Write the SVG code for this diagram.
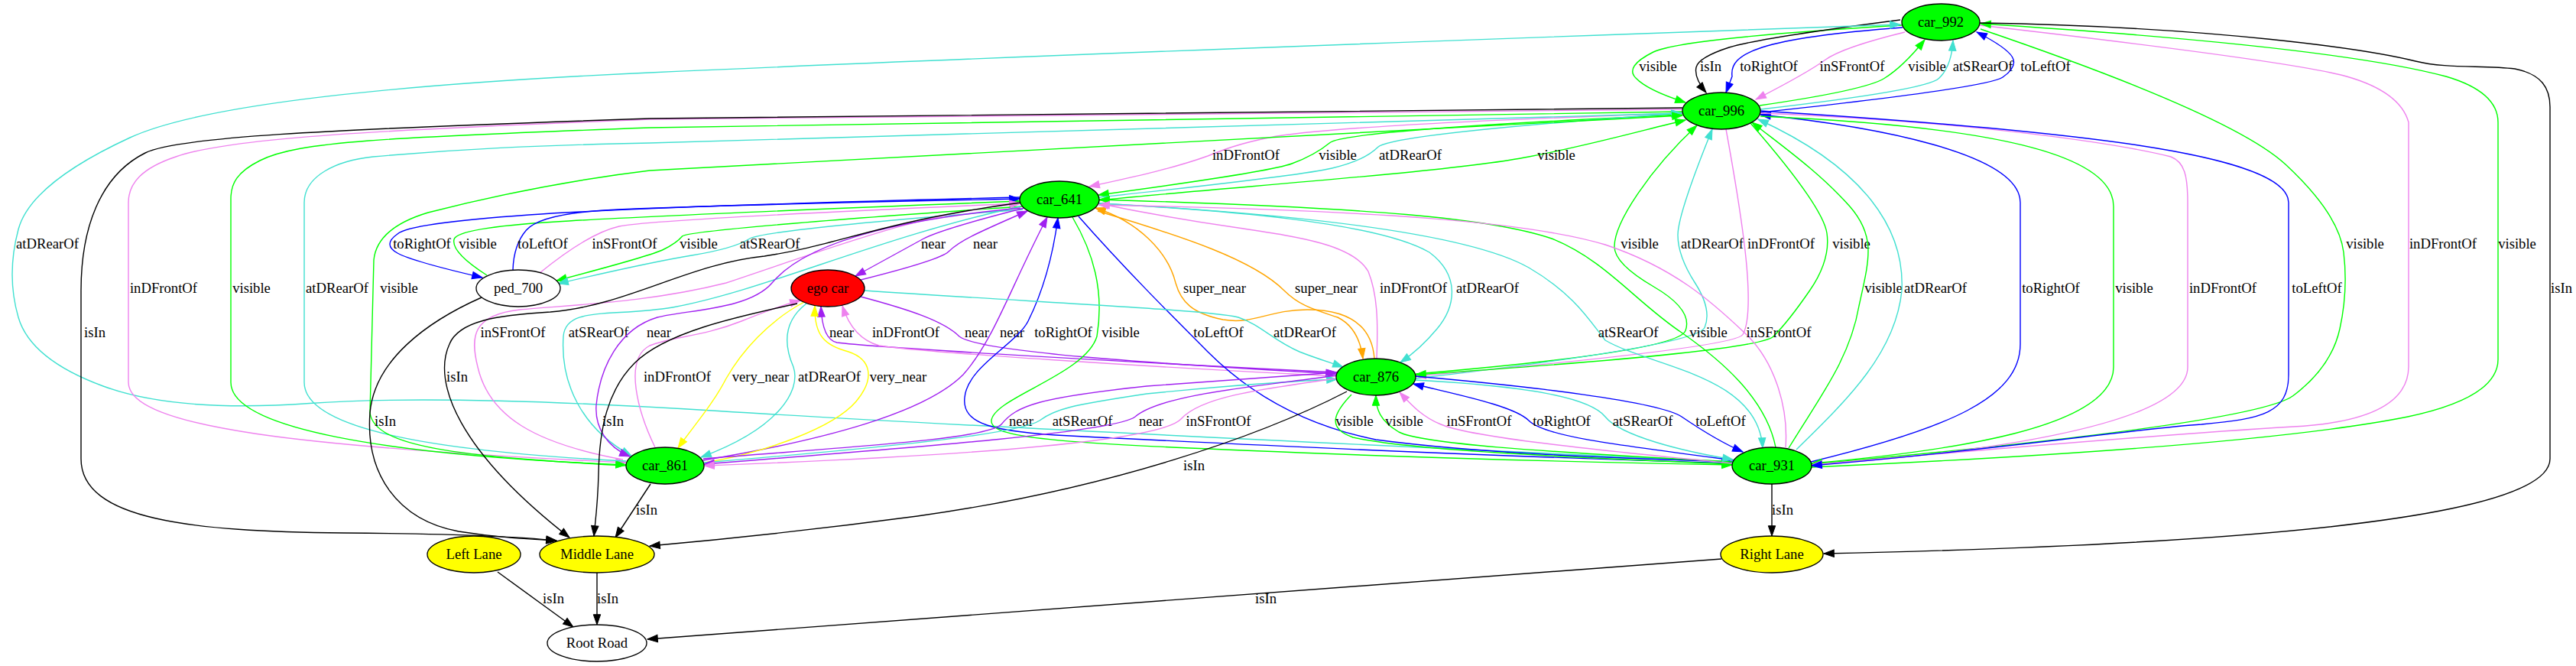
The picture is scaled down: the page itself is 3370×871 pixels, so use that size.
<svg xmlns="http://www.w3.org/2000/svg" width="3370" height="871" viewBox="0 0 3370 871">
<style>
text{font-family:"Liberation Serif","Times New Roman",serif;font-size:18.67px;text-anchor:middle;fill:#000}
.n ellipse{stroke:#000;stroke-width:1.33}
.e path{fill:none;stroke-width:1.4}
.k{stroke:#000;marker-end:url(#ak)}
.g{stroke:#00ff00;marker-end:url(#ag)}
.b{stroke:#0000ff;marker-end:url(#ab)}
.v{stroke:#ee82ee;marker-end:url(#av)}
.t{stroke:#40e0d0;marker-end:url(#at)}
.p{stroke:#a020f0;marker-end:url(#ap)}
.o{stroke:#ffa500;marker-end:url(#ao)}
.y{stroke:#ffff00;marker-end:url(#ay)}
</style>
<defs>
<marker id="ak" markerUnits="userSpaceOnUse" markerWidth="16" markerHeight="12" refX="13.3" refY="5" orient="auto" overflow="visible"><path d="M0,0.3 L13.3,5 L0,9.7 z" fill="#000" stroke="#000"/></marker>
<marker id="ag" markerUnits="userSpaceOnUse" markerWidth="16" markerHeight="12" refX="13.3" refY="5" orient="auto" overflow="visible"><path d="M0,0.3 L13.3,5 L0,9.7 z" fill="#00ff00" stroke="#00ff00"/></marker>
<marker id="ab" markerUnits="userSpaceOnUse" markerWidth="16" markerHeight="12" refX="13.3" refY="5" orient="auto" overflow="visible"><path d="M0,0.3 L13.3,5 L0,9.7 z" fill="#0000ff" stroke="#0000ff"/></marker>
<marker id="av" markerUnits="userSpaceOnUse" markerWidth="16" markerHeight="12" refX="13.3" refY="5" orient="auto" overflow="visible"><path d="M0,0.3 L13.3,5 L0,9.7 z" fill="#ee82ee" stroke="#ee82ee"/></marker>
<marker id="at" markerUnits="userSpaceOnUse" markerWidth="16" markerHeight="12" refX="13.3" refY="5" orient="auto" overflow="visible"><path d="M0,0.3 L13.3,5 L0,9.7 z" fill="#40e0d0" stroke="#40e0d0"/></marker>
<marker id="ap" markerUnits="userSpaceOnUse" markerWidth="16" markerHeight="12" refX="13.3" refY="5" orient="auto" overflow="visible"><path d="M0,0.3 L13.3,5 L0,9.7 z" fill="#a020f0" stroke="#a020f0"/></marker>
<marker id="ao" markerUnits="userSpaceOnUse" markerWidth="16" markerHeight="12" refX="13.3" refY="5" orient="auto" overflow="visible"><path d="M0,0.3 L13.3,5 L0,9.7 z" fill="#ffa500" stroke="#ffa500"/></marker>
<marker id="ay" markerUnits="userSpaceOnUse" markerWidth="16" markerHeight="12" refX="13.3" refY="5" orient="auto" overflow="visible"><path d="M0,0.3 L13.3,5 L0,9.7 z" fill="#ffff00" stroke="#ffff00"/></marker>
</defs>
<rect x="0" y="0" width="3370" height="871" fill="#fff"/>
<g id="edges" class="e">
<g><path class="g" d="M2488,33 Q2200,50 2163,68 Q2125,87 2140,102 Q2155,118 2205,134"/><text x="2169" y="92.5">visible</text></g>
<g><path class="k" d="M2486,26 Q2300,50 2262,62 Q2222,75 2219,88 Q2216,102 2232,121"/><text x="2238" y="92.5">isIn</text></g>
<g><path class="b" d="M2489,36 C2300,50 2262,70 2266,100 L2258,121"/><text x="2314" y="92.5">toRightOf</text></g>
<g><path class="v" d="M2492,42 Q2410,62 2387.5,78.5 Q2365,95 2297,130"/><text x="2423" y="92.5">inSFrontOf</text></g>
<g><path class="g" d="M2302,138 Q2440,118 2465,102.5 Q2490,87 2518,52"/><text x="2521" y="92.5">visible</text></g>
<g><path class="t" d="M2303,143 Q2520,118 2536.5,102.5 Q2553,87 2555,53"/><text x="2594" y="92.5">atSRearOf</text></g>
<g><path class="b" d="M2303,147 Q2600,115 2620,101 Q2640,87 2632.5,74.5 Q2625,62 2586,42"/><text x="2676" y="92.5">toLeftOf</text></g>

<g><path class="v" d="M2201,148 C1900,158 1720,168 1660,180 C1620,188 1600,196 1580,204 C1530,222 1470,234 1425,244"/><text x="1630" y="208.5">inDFrontOf</text></g>
<g><path class="g" d="M2201,150 Q1760,170 1740,186.5 Q1720,203 1690,214 Q1660,225 1437,255"/><text x="1750" y="208.5">visible</text></g>
<g><path class="t" d="M1438,258 Q1700,230 1742.5,220 Q1785,210 1802.5,192.5 Q1820,175 2200,148"/><text x="1845" y="208.5">atDRearOf</text></g>
<g><path class="g" d="M1438,262 C1600,245 1900,225 2000,205 C2080,190 2150,170 2205,157"/><text x="2036" y="208.5">visible</text></g>

<g><path class="t" d="M2267,604 Q1300,560 940,537.5 Q580,515 405,527.5 Q230,540 135,505 Q40,470 24,415 Q8,360 24,300 Q40,240 170,180 Q300,120 850,95 Q1400,70 2486,32"/><text x="62" y="324.5">atDRearOf</text></g>
<g><path class="b" d="M1334,258 Q850,270 692,281 Q535,292 520,306 Q500,320 520,331 Q540,342 631,363"/><text x="552" y="324.5">toRightOf</text></g>
<g><path class="g" d="M637,360 Q590,330 594,313 Q598,298 727.5,290 Q850,282 1334,263"/><text x="625" y="324.5">visible</text></g>
<g><path class="b" d="M671,353 Q672,320 688.5,301 Q705,282 777.5,276 Q850,270 1334,260"/><text x="710" y="324.5">toLeftOf</text></g>
<g><path class="v" d="M706,357 Q770,305 810,296 Q850,287 1334,266"/><text x="817" y="324.5">inSFrontOf</text></g>
<g><path class="g" d="M1337,270 Q900,300 892.5,309 Q885,318 867.5,326.5 Q850,335 728,367"/><text x="914" y="324.5">visible</text></g>
<g><path class="t" d="M1338,274 Q1000,300 980,312.5 Q960,325 905,334 Q850,343 730,371"/><text x="1007" y="324.5">atSRearOf</text></g>
<g><path class="p" d="M1340,272 Q1230,300 1207.5,312.5 Q1185,325 1119,361"/><text x="1221" y="324.5">near</text></g>
<g><path class="p" d="M1126,366 Q1230,340 1241,329 Q1252,318 1276,306.5 Q1300,295 1344,276"/><text x="1289" y="324.5">near</text></g>
<g><path class="g" d="M1852,489 Q2195,460 2205,432.5 Q2215,405 2163.5,375 Q2112,345 2112,322.5 C2112,290 2160,220 2220,164"/><text x="2145" y="324.5">visible</text></g>
<g><path class="t" d="M1852,495 Q2220,452 2230,428.5 Q2240,405 2217.5,370 Q2195,335 2195,307.5 Q2195,280 2240,169"/><text x="2240" y="324.5">atDRearOf</text></g>
<g><path class="v" d="M2258,169 Q2282,300 2286,360 Q2290,420 2280,437.5 Q2270,455 1852,492"/><text x="2330" y="324.5">inDFrontOf</text></g>
<g><path class="g" d="M2290,161 Q2385,270 2390,305 Q2395,340 2367.5,380 Q2340,420 2320,440 Q2300,460 1852,490"/><text x="2422" y="324.5">visible</text></g>
<g><path class="g" d="M2591,38 Q2920,150 2990,215 Q3060,280 3066,330 Q3072,380 3061,430 Q3050,480 3000,517.5 Q2950,555 2370,607"/><text x="3094" y="324.5">visible</text></g>
<g><path class="v" d="M2590,33 Q3000,80 3070,100 Q3140,120 3151,160 L3151,480 Q3150,550 3000,558 Q2800,570 2370,608"/><text x="3196" y="324.5">inDFrontOf</text></g>
<g><path class="g" d="M2370,611 Q2950,585 3150,545 Q3268,520 3268,470 L3268,160 Q3268,120 3200,100 Q3050,60 2591,31"/><text x="3293" y="324.5">visible</text></g>

<g><path class="v" d="M2201,143 L850,156 C500,170 300,180 230,205 C185,220 168,240 168,265 L168,500 C168,560 400,585 819,605"/><text x="214" y="382.5">inDFrontOf</text></g>
<g><path class="g" d="M2201,146 L850,167 C500,180 390,185 340,210 C310,225 302,240 302,260 L302,500 C302,560 500,595 819,608"/><text x="329" y="382.5">visible</text></g>
<g><path class="t" d="M819,603 C560,590 398,560 398,500 L398,265 C398,230 440,210 488,205 C600,195 700,190 850,187 L2200,148"/><text x="441" y="382.5">atDRearOf</text></g>
<g><path class="g" d="M819,609 C600,597 490,585 484,540 L489,340 C492,310 520,290 560,278 C650,255 750,235 850,223 L2201,151"/><text x="522" y="382.5">visible</text></g>
<g><path class="o" d="M1798,469 C1795,430 1770,405 1710,405 C1660,405 1640,425 1600,418 C1560,410 1545,395 1538,370 C1528,330 1490,290 1433,272"/><text x="1589" y="382.5">super_near</text></g>
<g><path class="o" d="M1436,276 C1550,310 1640,340 1680,380 C1700,400 1720,405 1750,415 C1770,425 1780,445 1783,469"/><text x="1735" y="382.5">super_near</text></g>
<g><path class="v" d="M1801,469 C1803,420 1802,385 1790,355 C1770,320 1700,310 1620,298 C1550,288 1480,275 1437,266"/><text x="1849" y="382.5">inDFrontOf</text></g>
<g><path class="t" d="M1438,266 C1600,275 1800,290 1870,330 C1910,360 1905,400 1880,430 C1865,448 1850,462 1832,474"/><text x="1946" y="382.5">atDRearOf</text></g>
<g><path class="g" d="M2340,586 C2380,520 2420,470 2432,400 C2445,340 2455,310 2420,270 C2380,225 2330,190 2292,160"/><text x="2464" y="382.5">visible</text></g>
<g><path class="t" d="M2350,588 C2420,520 2480,460 2488,380 C2492,300 2440,220 2300,156"/><text x="2532" y="382.5">atDRearOf</text></g>
<g><path class="b" d="M2369,604 C2550,560 2643,520 2643,450 L2643,265 C2643,200 2450,165 2303,150"/><text x="2683" y="382.5">toRightOf</text></g>
<g><path class="g" d="M2303,152 C2600,165 2765,200 2765,270 L2765,480 C2765,560 2550,590 2370,606"/><text x="2792" y="382.5">visible</text></g>
<g><path class="v" d="M2303,148 C2600,160 2780,190 2840,205 C2858,212 2862,230 2862,265 L2862,480 C2862,560 2560,595 2370,608"/><text x="2908" y="382.5">inDFrontOf</text></g>
<g><path class="b" d="M2303,145 C2700,170 2994,200 2994,265 L2994,490 C2994,540 2960,548 2880,555 C2800,560 2600,590 2370,609"/><text x="3031" y="382.5">toLeftOf</text></g>
<g><path class="k" d="M2590,30 C2900,35 3100,65 3160,80 C3200,90 3250,85 3290,90 C3325,97 3336,115 3336,140 L3336,600 C3336,690 2800,715 2386,724"/><text x="3351" y="382.5">isIn</text></g>

<g><path class="k" d="M2201,141 L850,155 C400,170 230,180 190,200 C130,230 106,300 106,380 L106,600 C106,680 250,695 450,697 C600,698 680,702 728,707"/><text x="124" y="440.5">isIn</text></g>
<g><path class="v" d="M815,601 C700,580 640,545 625,480 C615,440 618,412 680,405 C760,398 850,395 950,370 C1100,320 1200,280 1335,266"/><text x="671" y="440.5">inSFrontOf</text></g>
<g><path class="t" d="M1335,270 C1150,310 1000,380 880,402 C800,415 740,400 737,440 C733,500 760,560 826,596"/><text x="783" y="440.5">atSRearOf</text></g>
<g><path class="p" d="M1335,272 C1200,285 1060,310 1010,370 C980,405 900,405 860,415 C810,430 785,480 780,530 C778,560 795,585 824,597"/><text x="862" y="440.5">near</text></g>
<g><path class="p" d="M1749,487 C1500,475 1150,455 1095,448 C1080,445 1075,425 1074,401"/><text x="1101" y="440.5">near</text></g>
<g><path class="v" d="M1749,492 C1500,480 1200,460 1150,452 C1125,445 1110,425 1102,400"/><text x="1185" y="440.5">inDFrontOf</text></g>
<g><path class="p" d="M1126,388 C1190,405 1235,420 1255,440 C1280,460 1500,475 1748,489"/><text x="1278" y="440.5">near</text></g>
<g><path class="p" d="M920,602 C1080,575 1210,540 1260,490 C1300,445 1320,380 1370,284"/><text x="1324" y="440.5">near</text></g>
<g><path class="b" d="M2266,606 C1900,595 1600,580 1400,570 C1300,565 1258,555 1262,520 C1265,480 1330,450 1345,420 C1365,380 1378,330 1384,285"/><text x="1391" y="440.5">toRightOf</text></g>
<g><path class="g" d="M1403,284 C1430,330 1445,380 1435,440 C1420,490 1300,520 1297,550 C1295,575 1400,580 1700,592 C1900,600 2100,605 2266,608"/><text x="1466" y="440.5">visible</text></g>
<g><path class="b" d="M1411,283 C1470,350 1530,410 1580,460 C1630,510 1700,555 1800,575 C1950,595 2150,600 2266,604"/><text x="1594" y="440.5">toLeftOf</text></g>
<g><path class="t" d="M1131,380 C1350,395 1580,405 1620,415 C1650,425 1665,445 1700,460 C1720,468 1740,474 1757,480"/><text x="1707" y="440.5">atDRearOf</text></g>
<g><path class="t" d="M1438,266 C1700,280 1920,305 2000,350 C2060,385 2080,420 2100,445 C2160,480 2300,490 2306,586"/><text x="2130" y="440.5">atSRearOf</text></g>
<g><path class="g" d="M2323,585 C2310,520 2250,470 2200,435 C2140,395 2100,340 2030,312 C1950,285 1800,272 1438,261"/><text x="2235" y="440.5">visible</text></g>
<g><path class="v" d="M2336,585 C2340,530 2320,470 2282,435 C2240,395 2190,350 2100,320 C2000,290 1800,275 1438,268"/><text x="2327" y="440.5">inSFrontOf</text></g>

<g><path class="k" d="M1335,265 C1150,290 1100,320 1000,335 C900,345 820,400 720,408 C650,412 600,420 588,450 C565,500 600,590 745,703"/><text x="598" y="498.5">isIn</text></g>
<g><path class="v" d="M857,585 C835,540 815,470 850,452 C880,440 920,440 970,420 C1000,408 1020,400 1047,393"/><text x="886" y="498.5">inDFrontOf</text></g>
<g><path class="y" d="M1052,395 C1005,420 970,460 950,495 C932,530 905,560 887,586"/><text x="995" y="498.5">very_near</text></g>
<g><path class="t" d="M1055,397 C1025,420 1025,450 1038,480 C1048,510 1020,560 917,598"/><text x="1085" y="498.5">atDRearOf</text></g>
<g><path class="y" d="M922,605 C1000,592 1090,560 1120,525 C1145,495 1140,470 1110,460 C1080,452 1065,440 1066,400"/><text x="1175" y="498.5">very_near</text></g>

<g><path class="k" d="M630,389 C560,420 490,470 484,540 C478,620 520,680 600,695 C650,703 690,705 728,707"/><text x="504" y="556.5">isIn</text></g>
<g><path class="k" d="M1043,397 C960,415 870,435 830,475 C795,510 784,560 783,620 C782,660 779,680 777,701"/><text x="802" y="556.5">isIn</text></g>
<g><path class="p" d="M920,600 C1100,585 1290,575 1310,555 C1330,530 1360,520 1500,505 C1600,497 1700,490 1749,487"/><text x="1336" y="556.5">near</text></g>
<g><path class="t" d="M921,605 C1100,590 1330,570 1360,550 C1380,535 1400,530 1500,515 C1600,505 1700,498 1749,496"/><text x="1416" y="556.5">atSRearOf</text></g>
<g><path class="p" d="M1748,491 C1650,505 1520,515 1485,545 C1460,565 1200,585 921,607"/><text x="1506" y="556.5">near</text></g>
<g><path class="v" d="M1748,495 C1640,510 1570,520 1545,548 C1520,575 1300,595 921,609"/><text x="1594" y="556.5">inSFrontOf</text></g>
<g><path class="g" d="M1768,516 C1745,540 1735,560 1770,572 C1850,590 2100,600 2266,607"/><text x="1772" y="556.5">visible</text></g>
<g><path class="g" d="M2266,604 C2000,590 1860,580 1830,565 C1805,550 1800,535 1800,517"/><text x="1837" y="556.5">visible</text></g>
<g><path class="v" d="M2266,606 C2050,585 1920,570 1885,555 C1860,545 1845,528 1831,513"/><text x="1935" y="556.5">inSFrontOf</text></g>
<g><path class="b" d="M2268,602 C2100,580 2020,570 2000,550 C1980,530 1900,515 1849,502"/><text x="2043" y="556.5">toRightOf</text></g>
<g><path class="t" d="M1851,497 C2000,505 2080,520 2100,545 C2120,570 2200,590 2267,601"/><text x="2149" y="556.5">atSRearOf</text></g>
<g><path class="b" d="M1851,492 C2000,505 2170,525 2200,545 C2225,562 2250,578 2280,591"/><text x="2251" y="556.5">toLeftOf</text></g>

<g><path class="k" d="M1762,512 C1650,570 1450,640 1200,675 C1050,695 950,705 850,714"/><text x="1562" y="614.5">isIn</text></g>
<g><path class="k" d="M851,633 L805,703"/><text x="846" y="672.5">isIn</text></g>
<g><path class="k" d="M2318,633 L2318,701"/><text x="2332" y="672.5">isIn</text></g>
<g><path class="k" d="M651,748 L750,820"/><text x="724" y="788.5">isIn</text></g>
<g><path class="k" d="M781,749 L781,817"/><text x="795" y="788.5">isIn</text></g>
<g><path class="k" d="M2252,731 L847,836"/><text x="1656" y="788.5">isIn</text></g>
</g>
<g id="car_992" class="n"><ellipse cx="2539" cy="29" rx="51" ry="24" fill="#00ff00"/><text x="2539" y="34.6">car_992</text></g>
<g id="car_996" class="n"><ellipse cx="2252" cy="145" rx="51" ry="24" fill="#00ff00"/><text x="2252" y="150.6">car_996</text></g>
<g id="car_641" class="n"><ellipse cx="1386" cy="261" rx="52" ry="24" fill="#00ff00"/><text x="1386" y="266.6">car_641</text></g>
<g id="ped_700" class="n"><ellipse cx="678" cy="377" rx="55" ry="24" fill="#fff"/><text x="678" y="382.6">ped_700</text></g>
<g id="ego_car" class="n"><ellipse cx="1083" cy="377" rx="48" ry="24" fill="#ff0000"/><text x="1083" y="382.6">ego car</text></g>
<g id="car_876" class="n"><ellipse cx="1800" cy="493" rx="52" ry="24" fill="#00ff00"/><text x="1800" y="498.6">car_876</text></g>
<g id="car_861" class="n"><ellipse cx="870" cy="609" rx="51" ry="24" fill="#00ff00"/><text x="870" y="614.6">car_861</text></g>
<g id="car_931" class="n"><ellipse cx="2318" cy="609" rx="52" ry="24" fill="#00ff00"/><text x="2318" y="614.6">car_931</text></g>
<g id="left_lane" class="n"><ellipse cx="620" cy="725" rx="61" ry="24" fill="#ffff00"/><text x="620" y="730.6">Left Lane</text></g>
<g id="middle_lane" class="n"><ellipse cx="781" cy="725" rx="75" ry="24" fill="#ffff00"/><text x="781" y="730.6">Middle Lane</text></g>
<g id="right_lane" class="n"><ellipse cx="2318" cy="725" rx="67" ry="24" fill="#ffff00"/><text x="2318" y="730.6">Right Lane</text></g>
<g id="root_road" class="n"><ellipse cx="781" cy="841" rx="65" ry="24" fill="#fff"/><text x="781" y="846.6">Root Road</text></g>
</svg>
